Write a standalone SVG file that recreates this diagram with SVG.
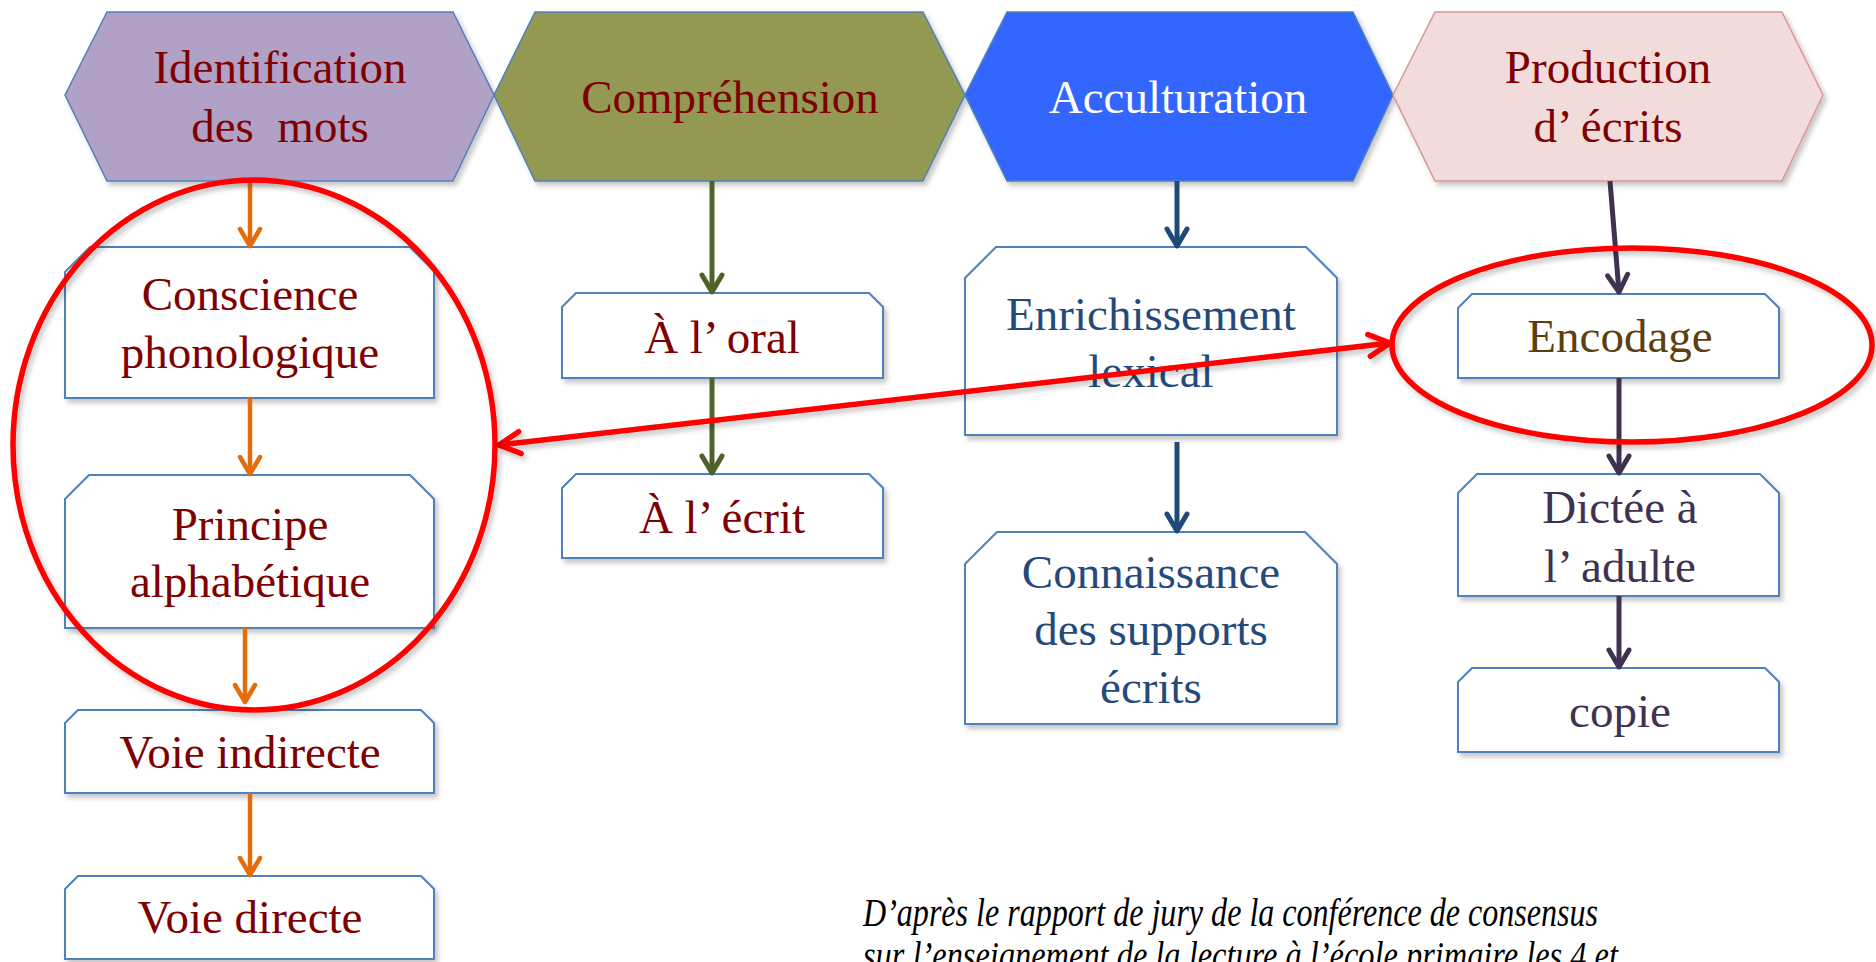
<svg xmlns="http://www.w3.org/2000/svg" width="1876" height="962" viewBox="0 0 1876 962">
<defs>
<filter id="sh" x="-10%" y="-10%" width="125%" height="130%">
<feDropShadow dx="3" dy="4" stdDeviation="2.5" flood-color="#000" flood-opacity="0.22"/>
</filter>
<marker id="mO" markerUnits="userSpaceOnUse" viewBox="-25 -15 30 30" markerWidth="30" markerHeight="30" refX="0" refY="0" orient="auto" overflow="visible">
<path d="M-17,-10 L0,0 L-17,10" fill="none" stroke="#E46C0A" stroke-width="4.5" stroke-linecap="round" stroke-linejoin="round"/>
</marker>
<marker id="mG" markerUnits="userSpaceOnUse" viewBox="-25 -15 30 30" markerWidth="30" markerHeight="30" refX="0" refY="0" orient="auto" overflow="visible">
<path d="M-17,-10 L0,0 L-17,10" fill="none" stroke="#4F6228" stroke-width="5" stroke-linecap="round" stroke-linejoin="round"/>
</marker>
<marker id="mB" markerUnits="userSpaceOnUse" viewBox="-25 -15 30 30" markerWidth="30" markerHeight="30" refX="0" refY="0" orient="auto" overflow="visible">
<path d="M-17,-10 L0,0 L-17,10" fill="none" stroke="#1F497D" stroke-width="5" stroke-linecap="round" stroke-linejoin="round"/>
</marker>
<marker id="mP" markerUnits="userSpaceOnUse" viewBox="-25 -15 30 30" markerWidth="30" markerHeight="30" refX="0" refY="0" orient="auto" overflow="visible">
<path d="M-17,-10 L0,0 L-17,10" fill="none" stroke="#3F3151" stroke-width="5" stroke-linecap="round" stroke-linejoin="round"/>
</marker>
<marker id="mR" markerUnits="userSpaceOnUse" viewBox="-30 -15 35 30" markerWidth="35" markerHeight="30" refX="0" refY="0" orient="auto-start-reverse" overflow="visible">
<path d="M-21,-11 L0,0 L-21,11" fill="none" stroke="#FF0000" stroke-width="5.5" stroke-linecap="round" stroke-linejoin="round"/>
</marker>
</defs>
<style>
text{font-family:"Liberation Serif","DejaVu Serif",serif;font-size:47px;text-anchor:middle}
.hex{stroke:#4F81BD;stroke-width:1.5;filter:url(#sh)}
.box{fill:#FFFFFF;stroke:#4F81BD;stroke-width:2;filter:url(#sh)}
.red{fill:#7F0000}
.navy{fill:#244A7C}
.brown{fill:#5E3D0E}
.plum{fill:#3F3151}
.white{fill:#FFFFFF}
.cO{stroke:#E46C0A;stroke-width:4.5;fill:none;marker-end:url(#mO)}
.cG{stroke:#4F6228;stroke-width:5;fill:none;marker-end:url(#mG)}
.cB{stroke:#1F497D;stroke-width:5;fill:none;marker-end:url(#mB)}
.cP{stroke:#3F3151;stroke-width:5;fill:none;marker-end:url(#mP)}
.ann{fill:none;stroke:#FF0000;stroke-width:5.5;filter:url(#sh)}
.note{font-style:italic;font-size:40px;text-anchor:start;fill:#000000}
</style>
<rect width="1876" height="962" fill="#FFFFFF"/>

<g id="hex-identification">
<polygon class="hex" fill="#B2A1C7" points="65,95 107,12 453,12 494,95 453,181 107,181"/>
<text class="red" x="280" y="83">Identification</text>
<text class="red" x="280" y="142" xml:space="preserve">des  mots</text>
</g>
<g id="hex-comprehension">
<polygon class="hex" fill="#939953" points="494,95 535,12 923,12 965,95 923,181 535,181"/>
<text class="red" x="730" y="113">Compréhension</text>
</g>
<g id="hex-acculturation">
<polygon class="hex" fill="#3366FF" points="965,95 1007,12 1353,12 1393,95 1353,181 1007,181"/>
<text class="white" x="1178" y="113">Acculturation</text>
</g>
<g id="hex-production">
<polygon class="hex" fill="#F2DCDB" style="stroke:#D99694" points="1393,95 1435,12 1782,12 1823,95 1782,181 1435,181"/>
<text class="red" x="1608" y="83">Production</text>
<text class="red" x="1608" y="142">d’ écrits</text>
</g>

<g id="box-conscience">
<path class="box" d="M65,272 L90,247 L410,247 L434,271 L434,398 L65,398 Z"/>
<text class="red" x="250" y="310">Conscience</text>
<text class="red" x="250" y="368">phonologique</text>
</g>
<g id="box-principe">
<path class="box" d="M65,499 L89,475 L410,475 L434,499 L434,628 L65,628 Z"/>
<text class="red" x="250" y="540">Principe</text>
<text class="red" x="250" y="597">alphabétique</text>
</g>
<g id="box-voie-indirecte">
<path class="box" d="M65,723 L78,710 L421,710 L434,723 L434,793 L65,793 Z"/>
<text class="red" x="250" y="768">Voie indirecte</text>
</g>
<g id="box-voie-directe">
<path class="box" d="M65,889 L78,876 L421,876 L434,889 L434,959 L65,959 Z"/>
<text class="red" x="250" y="933">Voie directe</text>
</g>

<g id="box-oral">
<path class="box" d="M562,307 L576,293 L869,293 L883,307 L883,378 L562,378 Z"/>
<text class="red" x="722" y="353">À l’ oral</text>
</g>
<g id="box-ecrit">
<path class="box" d="M562,488 L576,474 L869,474 L883,488 L883,558 L562,558 Z"/>
<text class="red" x="722" y="533">À l’ écrit</text>
</g>

<g id="box-enrichissement">
<path class="box" d="M965,278 L996,247 L1306,247 L1337,278 L1337,435 L965,435 Z"/>
<text class="navy" x="1151" y="330">Enrichissement</text>
<text class="navy" x="1151" y="387">lexical</text>
</g>
<g id="box-connaissance">
<path class="box" d="M965,564 L997,532 L1305,532 L1337,564 L1337,724 L965,724 Z"/>
<text class="navy" x="1151" y="588">Connaissance</text>
<text class="navy" x="1151" y="645">des supports</text>
<text class="navy" x="1151" y="703">écrits</text>
</g>

<g id="box-encodage">
<path class="box" d="M1458,308 L1472,294 L1765,294 L1779,308 L1779,378 L1458,378 Z"/>
<text class="brown" x="1620" y="352">Encodage</text>
</g>
<g id="box-dictee">
<path class="box" d="M1458,493 L1477,474 L1760,474 L1779,493 L1779,596 L1458,596 Z"/>
<text class="plum" x="1620" y="523">Dictée à</text>
<text class="plum" x="1620" y="582">l’ adulte</text>
</g>
<g id="box-copie">
<path class="box" d="M1458,682 L1472,668 L1765,668 L1779,682 L1779,752 L1458,752 Z"/>
<text class="plum" x="1620" y="727">copie</text>
</g>

<g id="connectors">
<line class="cO" x1="250" y1="181" x2="250" y2="246"/>
<line class="cO" x1="250" y1="398" x2="250" y2="474"/>
<line class="cO" x1="245" y1="628" x2="245" y2="702"/>
<line class="cO" x1="250" y1="793" x2="250" y2="875"/>
<line class="cG" x1="712" y1="181" x2="712" y2="292"/>
<line class="cG" x1="712" y1="378" x2="712" y2="473"/>
<line class="cB" x1="1177" y1="181" x2="1177" y2="246"/>
<line class="cB" x1="1177" y1="442" x2="1177" y2="531"/>
<line class="cP" x1="1610" y1="181" x2="1619" y2="292"/>
<line class="cP" x1="1619" y1="378" x2="1619" y2="473"/>
<line class="cP" x1="1619" y1="596" x2="1619" y2="667"/>
<line x1="499" y1="445" x2="1390" y2="343" stroke="#FF0000" stroke-width="5.5" stroke-linecap="round" marker-start="url(#mR)" marker-end="url(#mR)" filter="url(#sh)"/>
</g>

<g id="highlights">
<ellipse class="ann" cx="254" cy="445" rx="241" ry="265"/>
<ellipse class="ann" cx="1632" cy="345" rx="240" ry="97"/>
</g>

<g id="source-note">
<text class="note" x="863" y="926" textLength="735" lengthAdjust="spacingAndGlyphs">D’après le rapport de jury de la conférence de consensus</text>
<text class="note" x="863" y="969" textLength="755" lengthAdjust="spacingAndGlyphs">sur l’enseignement de la lecture à l’école primaire les 4 et</text>
</g>
</svg>
